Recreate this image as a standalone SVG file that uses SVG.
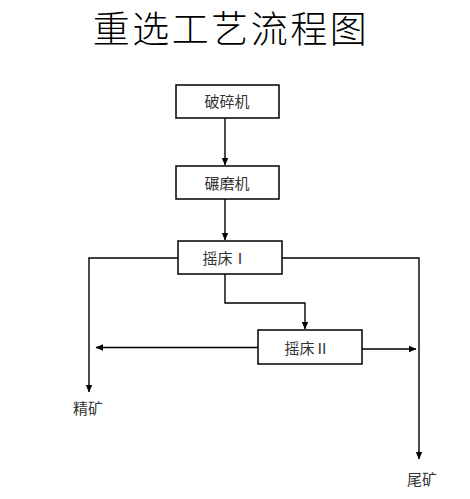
<svg xmlns="http://www.w3.org/2000/svg" width="470" height="499" viewBox="0 0 470 499">
<defs>
<marker id="arr" markerWidth="8" markerHeight="8" refX="7" refY="4" orient="auto" markerUnits="userSpaceOnUse">
<path d="M0,0.8 L7.5,4 L0,7.2 Z" fill="#000"/>
</marker>
<style>
.box{fill:#fff;stroke:#000;stroke-width:1.5}
.lbl{font-family:"Noto Sans CJK SC","Noto Sans",sans-serif;font-size:15px;fill:#333;text-anchor:middle;dominant-baseline:central}
.con{fill:none;stroke:#000;stroke-width:1.4}
.title{font-family:"Noto Sans CJK SC","Noto Sans",sans-serif;font-size:37px;font-weight:300;fill:#000;text-anchor:middle;dominant-baseline:central;letter-spacing:2.5px}
</style>
</defs>
<rect width="470" height="499" fill="#fff"/>
<text class="title" x="231" y="27">重选工艺流程图</text>
<g id="connectors">
<path class="con" d="M225,118 V165" marker-end="url(#arr)"/>
<path class="con" d="M225,199 V240" marker-end="url(#arr)"/>
<path class="con" d="M178,258 H89 V392" marker-end="url(#arr)"/>
<path class="con" d="M282,258 H419 V459" marker-end="url(#arr)"/>
<path class="con" d="M225,274 V303 H305 V329" marker-end="url(#arr)"/>
<path class="con" d="M258,347.5 H96" marker-end="url(#arr)"/>
<path class="con" d="M362,349 H416" marker-end="url(#arr)"/>
</g>
<g id="n1"><rect class="box" x="176" y="85" width="103" height="33"/><text class="lbl" x="227" y="100">破碎机</text></g>
<g id="n2"><rect class="box" x="176" y="166" width="103" height="33"/><text class="lbl" x="227" y="182">碾磨机</text></g>
<g id="n3"><rect class="box" x="178" y="241" width="104" height="33"/><text class="lbl" x="225" y="257">摇床Ⅰ</text></g>
<g id="n4"><rect class="box" x="258" y="330" width="104" height="34"/><text class="lbl" x="307" y="347">摇床Ⅱ</text></g>
<g id="out1"><text class="lbl" x="88" y="407">精矿</text></g>
<g id="out2"><text class="lbl" x="422" y="478">尾矿</text></g>
</svg>
